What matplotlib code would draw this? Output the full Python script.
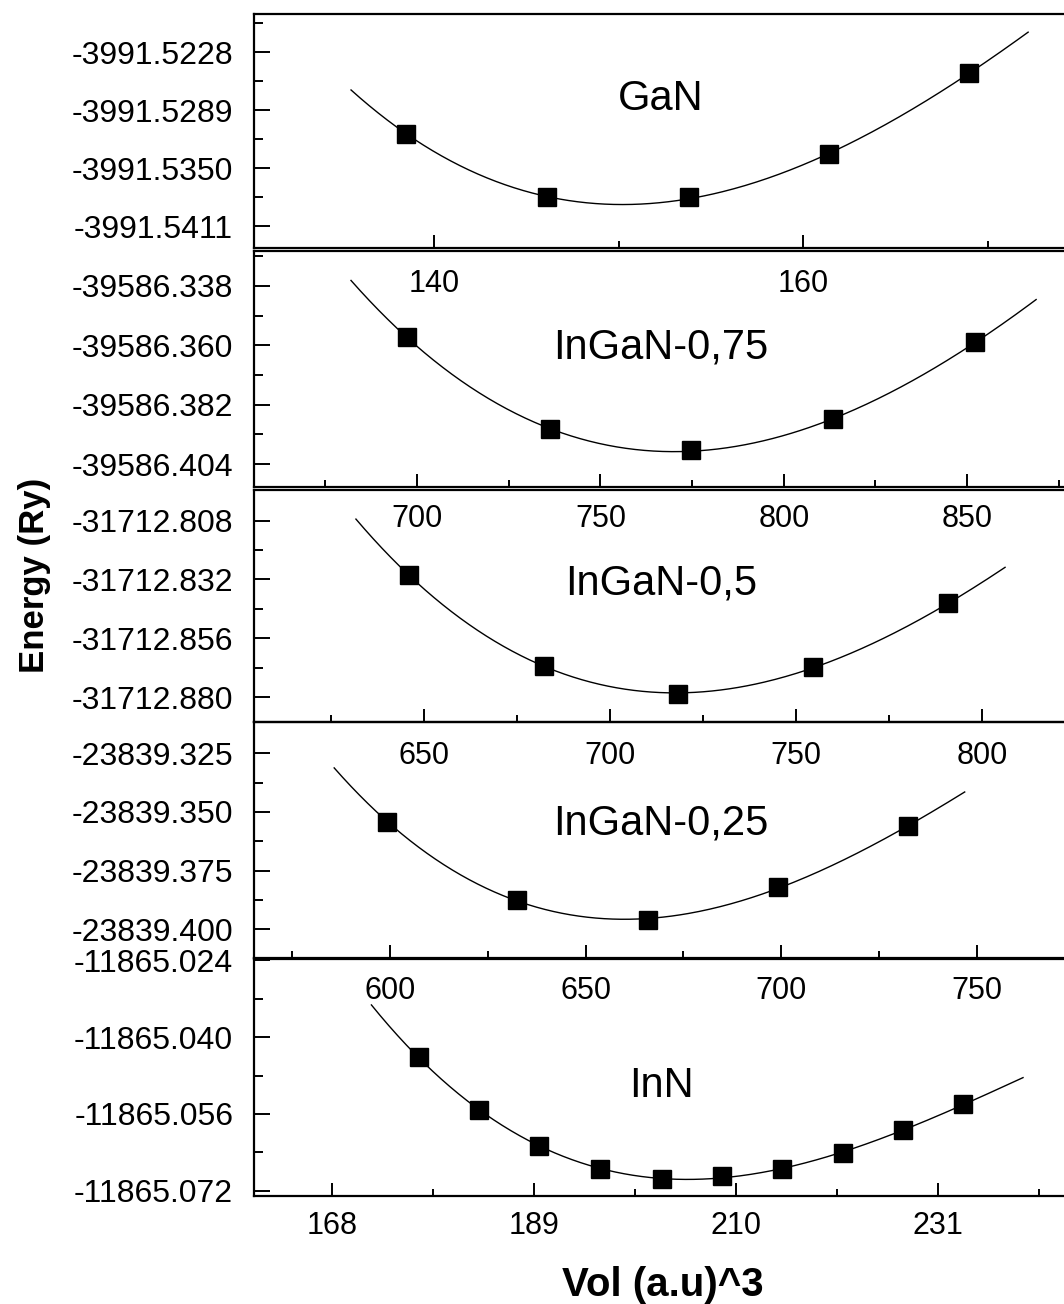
import matplotlib
matplotlib.use("Agg")
import matplotlib.pyplot as plt
import numpy as np

plt.rcParams['font.family'] = ['Liberation Sans', 'DejaVu Sans']

# ---- data (volume in a.u.^3, energy in Ry) ----
gan_vol = [138.5, 146.1, 153.8, 161.4, 169.0]
gan_e = [-3991.53138, -3991.53808, -3991.53808, -3991.53356, -3991.52501]

in75_vol = [697.3, 736.3, 774.7, 813.4, 852.2]
in75_e = [-39586.3571, -39586.3912, -39586.3988, -39586.3875, -39586.3589]

in50_vol = [646.0, 682.3, 718.3, 754.6, 790.9]
in50_e = [-31712.8304, -31712.8673, -31712.8786, -31712.8679, -31712.8418]

in25_vol = [599.2, 632.5, 666.0, 699.2, 732.4]
in25_e = [-23839.3541, -23839.3875, -23839.3960, -23839.3821, -23839.3560]

inn_vol = [177.0, 183.3, 189.5, 195.8, 202.3, 208.5, 214.8, 221.1, 227.3, 233.6]
inn_e = [-11865.0442, -11865.0552, -11865.0626, -11865.0674, -11865.0696,
         -11865.0689, -11865.0674, -11865.0641, -11865.0594, -11865.0540]

names = ['GaN', 'InGaN-0,75', 'InGaN-0,5', 'InGaN-0,25', 'InN']

# fitted curve extent for each panel
fit_ranges = [(135.5, 172.2), (682.0, 868.8), (631.7, 806.2), (585.7, 746.9), (172.1, 239.8)]

# axis settings
xlims = [(130.24, 174.74), (655.55, 879.4), (604.3, 825.0), (565.2, 775.1), (159.9, 245.2)]
ylims = [(-3991.5434, -3991.5188), (-39586.4125, -39586.3251), (-31712.8902, -31712.7955),
         (-23839.4122, -23839.3117), (-11865.0731, -11865.0236)]
x_major = [[140, 160], [700, 750, 800, 850], [650, 700, 750, 800], [600, 650, 700, 750],
           [168, 189, 210, 231]]
x_minor = [[150, 170], [675, 725, 775, 825, 875], [625, 675, 725, 775], [575, 625, 675, 725],
           [178.5, 199.5, 220.5, 241.5]]
y_major = [[-3991.5411, -3991.5350, -3991.5289, -3991.5228],
           [-39586.404, -39586.382, -39586.360, -39586.338],
           [-31712.880, -31712.856, -31712.832, -31712.808],
           [-23839.400, -23839.375, -23839.350, -23839.325],
           [-11865.072, -11865.056, -11865.040, -11865.024]]
y_minor = [[-3991.53805, -3991.53195, -3991.52585, -3991.51975],
           [-39586.393, -39586.371, -39586.349, -39586.327],
           [-31712.868, -31712.844, -31712.820],
           [-23839.3875, -23839.3625, -23839.3375],
           [-11865.064, -11865.048, -11865.032]]
y_fmt = ['%.4f', '%.3f', '%.3f', '%.3f', '%.3f']

vols = [gan_vol, in75_vol, in50_vol, in25_vol, inn_vol]
energies = [gan_e, in75_e, in50_e, in25_e, inn_e]

W, H = 1064, 1304
fig = plt.figure(figsize=(W / 100, H / 100), dpi=100)

# panel boxes in pixels (top, bottom), label baselines in pixels
boxes = [(14, 248), (251, 487), (490, 722), (722, 958), (958.5, 1196)]
label_base = [110, 358, 595, 835, 1097]
xpads = [15, 12, 14, 13, 11]
left, right = 254, 1075

for i in range(5):
    top, bottom = boxes[i]
    ax = fig.add_axes([left / W, 1 - bottom / H, (right - left) / W, (bottom - top) / H])
    ax.patch.set_visible(False)

    v = np.array(vols[i])
    e = np.array(energies[i])
    # smooth E(V) fit through the computed points
    coef = np.polyfit(v - v.mean(), e - e.mean(), 3)
    vv = np.linspace(fit_ranges[i][0], fit_ranges[i][1], 300)
    ax.plot(vv, np.polyval(coef, vv - v.mean()) + e.mean(), color='black', lw=1.0)
    ax.plot(v, e, 's', color='black', markersize=13)

    ax.set_xlim(xlims[i])
    ax.set_ylim(ylims[i])
    ax.set_xticks(x_major[i])
    ax.set_xticks(x_minor[i], minor=True)
    ax.set_yticks(y_major[i])
    ax.set_yticks(y_minor[i], minor=True)
    ax.set_yticklabels([y_fmt[i] % t for t in y_major[i]], fontsize=23)
    ax.set_xticklabels([str(t) for t in x_major[i]], fontsize=22)

    ax.tick_params(axis='both', which='both', direction='in', width=1.4)
    ax.tick_params(axis='y', which='major', length=11.5, pad=15)
    ax.tick_params(axis='y', which='minor', length=6.5)
    ax.tick_params(axis='x', which='major', length=9.5, pad=xpads[i])
    ax.tick_params(axis='x', which='minor', length=5)
    for sp in ax.spines.values():
        sp.set_linewidth(1.6)
    ax.spines['right'].set_visible(False)

    fig.text(661 / W, 1 - label_base[i] / H, names[i], fontsize=30,
             ha='center', va='baseline')

fig.text(35 / W, 1 - 575 / H, 'Energy (Ry)', rotation=90, fontsize=25,
         fontweight='bold', ha='center', va='center')
fig.text(663 / W, 1 - 1285 / H, 'Vol (a.u)^3', fontsize=29,
         fontweight='bold', ha='center', va='center')

plt.savefig('out.png', dpi=100)
